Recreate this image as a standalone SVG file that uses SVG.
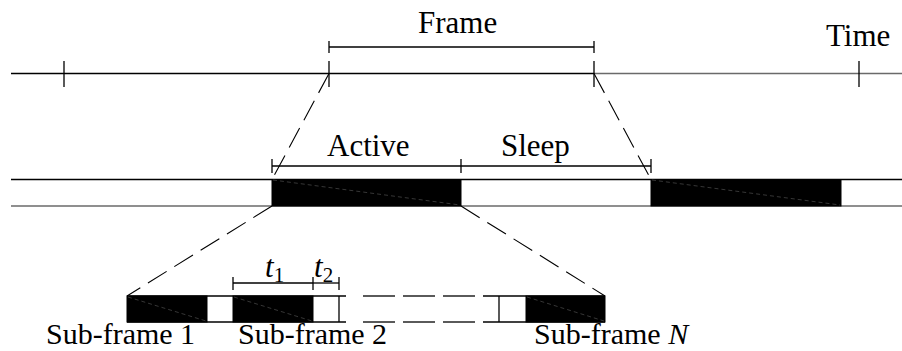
<svg xmlns="http://www.w3.org/2000/svg" width="902" height="351" viewBox="0 0 902 351">
  <style>
    .ln { stroke: #000; stroke-width: 1.3; fill: none; }
    .grey { stroke: #6a6a6a; stroke-width: 1.5; fill: none; }
    .dash { stroke: #000; stroke-width: 1.1; fill: none; stroke-dasharray: 22 9; }
    .blk { fill: #000; stroke: #000; stroke-width: 1; }
    .diag { stroke: #5a5a5a; stroke-width: 0.6; stroke-dasharray: 4 3; fill: none; }
    .txt { font-family: "Liberation Serif", "Times New Roman", serif; font-size: 31px; fill: #000; }
    .lbl { font-size: 30px; }
    .it { font-style: italic; }
    .sub { font-size: 21px; font-style: normal; }
  </style>

  <!-- time axis -->
  <g id="timeline">
    <line class="ln" x1="11" y1="73.5" x2="594" y2="73.5"/>
    <line class="grey" x1="594" y1="73.5" x2="902" y2="73.5"/>
    <line class="ln" x1="64" y1="61" x2="64" y2="87"/>
    <line class="ln" x1="329" y1="61" x2="329" y2="87"/>
    <line class="ln" x1="594" y1="61" x2="594" y2="87"/>
    <line class="ln" x1="859" y1="61" x2="859" y2="87"/>
    <text class="txt" x="826" y="46">Time</text>
  </g>

  <!-- frame span -->
  <g id="frame">
    <line class="ln" x1="329" y1="47" x2="594" y2="47"/>
    <line class="ln" x1="329" y1="41" x2="329" y2="53"/>
    <line class="ln" x1="594" y1="41" x2="594" y2="53"/>
    <text class="txt" x="418" y="33">Frame</text>
  </g>

  <!-- duty cycle band -->
  <g id="band">
    <line class="ln" x1="11" y1="179.5" x2="902" y2="179.5"/>
    <line class="grey" x1="11" y1="206" x2="902" y2="206"/>
    <rect class="blk" x="272" y="179.5" width="189" height="26.5"/>
    <line class="diag" x1="273" y1="180" x2="460" y2="205"/>
    <rect class="blk" x="651" y="179.5" width="190" height="26.5"/>
    <line class="diag" x1="652" y1="180" x2="840" y2="205"/>
  </g>

  <g id="active">
    <line class="ln" x1="272" y1="166" x2="461" y2="166"/>
    <line class="ln" x1="272" y1="159" x2="272" y2="173"/>
    <line class="ln" x1="461" y1="159" x2="461" y2="173"/>
    <text class="txt" x="327" y="156">Active</text>
  </g>

  <g id="sleep">
    <line class="ln" x1="461" y1="166" x2="651" y2="166"/>
    <line class="ln" x1="651" y1="159" x2="651" y2="173"/>
    <text class="txt" x="501" y="156">Sleep</text>
  </g>

  <!-- sub-frame row -->
  <g id="subframes">
    <g class="ln">
      <line x1="127" y1="296" x2="346" y2="296"/>
      <line x1="127" y1="322" x2="346" y2="322"/>
      <line x1="363" y1="296" x2="395" y2="296"/>
      <line x1="363" y1="322" x2="395" y2="322"/>
      <line x1="403" y1="296" x2="435" y2="296"/>
      <line x1="403" y1="322" x2="435" y2="322"/>
      <line x1="443" y1="296" x2="475" y2="296"/>
      <line x1="443" y1="322" x2="475" y2="322"/>
      <line x1="483" y1="296" x2="605" y2="296"/>
      <line x1="483" y1="322" x2="605" y2="322"/>
      <line x1="339" y1="296" x2="339" y2="322"/>
      <line x1="499" y1="296" x2="499" y2="322"/>
    </g>
    <rect class="blk" x="127" y="296" width="80" height="26"/>
    <line class="diag" x1="128" y1="297" x2="206" y2="321"/>
    <rect class="blk" x="233" y="296" width="80" height="26"/>
    <line class="diag" x1="234" y1="297" x2="312" y2="321"/>
    <rect class="blk" x="526" y="296" width="79" height="26"/>
    <line class="diag" x1="527" y1="297" x2="604" y2="321"/>
  </g>

  <g id="sub1">
    <text class="txt lbl" x="46" y="344">Sub-frame 1</text>
  </g>
  <g id="sub2">
    <text class="txt lbl" x="238" y="344">Sub-frame 2</text>
  </g>
  <g id="subN">
    <text class="txt lbl" x="534" y="344">Sub-frame <tspan class="it">N</tspan></text>
  </g>

  <g id="t1">
    <line class="ln" x1="233" y1="283" x2="313" y2="283"/>
    <line class="ln" x1="233" y1="277" x2="233" y2="290"/>
    <line class="ln" x1="313" y1="277" x2="313" y2="290"/>
    <text class="txt it" x="265" y="277">t<tspan class="sub" dy="5">1</tspan></text>
  </g>
  <g id="t2">
    <line class="ln" x1="313" y1="283" x2="339" y2="283"/>
    <line class="ln" x1="339" y1="277" x2="339" y2="290"/>
    <text class="txt it" x="314" y="277">t<tspan class="sub" dy="5">2</tspan></text>
  </g>

  <!-- zoom connectors -->
  <g id="connectors">
    <line class="dash" x1="329" y1="73.5" x2="272" y2="179.5"/>
    <line class="dash" x1="594" y1="73.5" x2="651" y2="179.5"/>
    <line class="dash" x1="272" y1="206" x2="127" y2="296"/>
    <line class="dash" x1="461" y1="206" x2="605" y2="296"/>
  </g>
</svg>
